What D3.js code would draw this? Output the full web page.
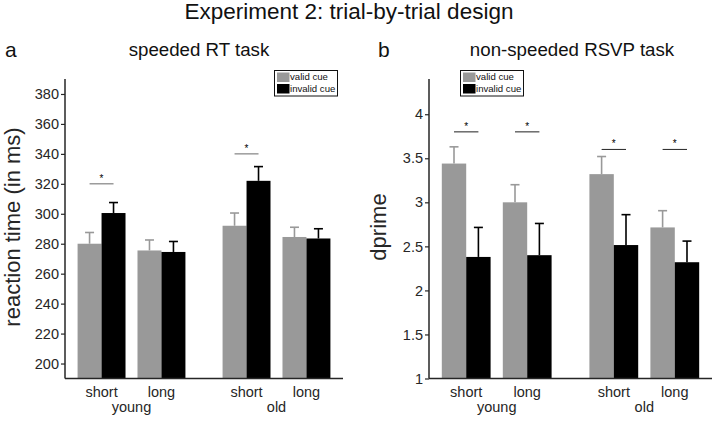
<!DOCTYPE html>
<html><head><meta charset="utf-8">
<script src="https://cdn.jsdelivr.net/npm/d3@7"></script>
<style>
html,body{margin:0;padding:0;background:#fff;}
svg{display:block;font-family:"Liberation Sans",Arial,sans-serif;}
</style></head>
<body><svg id="c" width="714" height="421"></svg>
<script>
// ---- data ----
const conditions = ["short", "long", "short", "long"];
const groups = ["young", "old"];
const positions = [1, 2, 3.42, 4.42];
const seriesNames = ["valid cue", "invalid cue"];

const rtValid = [280, 275.5, 292, 284.5];
const rtValidErr = [7.5, 7, 8.5, 6.5];
const rtInvalid = [300.5, 274.5, 322, 283.5];
const rtInvalidErr = [7, 7, 9.5, 6.5];
const rtSig = [320, null, 340, null];
const rtTicks = [200, 220, 240, 260, 280, 300, 320, 340, 360, 380];

const dpValid = [3.44, 3.0, 3.32, 2.715];
const dpValidErr = [0.19, 0.2, 0.2, 0.19];
const dpInvalid = [2.38, 2.40, 2.515, 2.32];
const dpInvalidErr = [0.335, 0.36, 0.345, 0.24];
const dpSig = [3.8, 3.8, 3.6, 3.6];
const dpTicks = [1, 1.5, 2, 2.5, 3, 3.5, 4];

const colValid = "#999999", colInvalid = "#000000", axisCol = "#262626";

const svg = d3.select("#c");

svg.append("text").attr("x", 349).attr("y", 18.5).attr("text-anchor", "middle")
  .attr("font-size", 22.5).attr("fill", "#111").text("Experiment 2: trial-by-trial design");

function panel(o) {
  const g = svg.append("g");
  const x = d3.scaleLinear().domain([0.39, 5.03]).range([o.x0, o.x1]);
  const y = d3.scaleLinear().domain(o.yDomain).range([378.5, 79]);
  const bw = 0.4;

  const series = [{v: o.valid, e: o.validErr, c: colValid, off: -bw},
                  {v: o.invalid, e: o.invalidErr, c: colInvalid, off: 0}];
  series.forEach(s => {
    const eg = g.append("g");
    s.v.forEach((v, i) => {
      const cx = x(positions[i] + s.off + bw / 2);
      eg.append("line").attr("x1", cx).attr("x2", cx).attr("y1", y(v)).attr("y2", y(v + s.e[i]))
        .attr("stroke", s.c).attr("stroke-width", 1.6);
      eg.append("line").attr("x1", cx - 4.5).attr("x2", cx + 4.5).attr("y1", y(v + s.e[i])).attr("y2", y(v + s.e[i]))
        .attr("stroke", s.c).attr("stroke-width", 1.6);
    });
    g.append("g").selectAll("rect").data(s.v).join("rect")
      .attr("x", (d, i) => x(positions[i] + s.off))
      .attr("width", x(bw) - x(0))
      .attr("y", d => y(d))
      .attr("height", d => y(o.yDomain[0]) - y(d))
      .attr("fill", s.c);
  });

  o.sig.forEach((v, i) => {
    if (v == null) return;
    const xa = x(positions[i] - bw / 2), xb = x(positions[i] + bw / 2);
    g.append("line").attr("x1", xa).attr("x2", xb).attr("y1", y(v)).attr("y2", y(v))
      .attr("stroke", o.sigCol).attr("stroke-width", 1.1);
    g.append("text").attr("x", (xa + xb) / 2).attr("y", y(v) - 2).attr("text-anchor", "middle")
      .attr("font-size", 10).attr("fill", "#000").text("*");
  });

  const ya = g.append("g").attr("transform", `translate(${o.x0},0)`)
    .call(d3.axisLeft(y).tickValues(o.ticks).tickSize(4).tickPadding(2).tickFormat(d3.format("~g")));
  ya.select(".domain").attr("d", `M0,${y(o.yDomain[0])}V${y(o.yDomain[1])}`)
    .attr("stroke", axisCol).attr("stroke-width", 1.5);
  ya.selectAll(".tick line").attr("stroke", axisCol).attr("stroke-width", 1.2);
  ya.selectAll(".tick text").attr("font-size", 14.5).attr("fill", "#262626")
    .attr("font-family", "Liberation Sans, Arial, sans-serif");

  g.append("line").attr("x1", o.x0).attr("x2", o.x1).attr("y1", 378.5).attr("y2", 378.5)
    .attr("stroke", axisCol).attr("stroke-width", 1.5);
  conditions.forEach((c, i) => {
    g.append("text").attr("x", x(positions[i])).attr("y", 396.5).attr("text-anchor", "middle")
      .attr("font-size", 14.5).attr("fill", "#262626").text(c);
  });
  groups.forEach((gr, j) => {
    const cx = (x(positions[2 * j]) + x(positions[2 * j + 1])) / 2;
    g.append("text").attr("x", cx).attr("y", 412).attr("text-anchor", "middle")
      .attr("font-size", 14.5).attr("fill", "#262626").text(gr);
  });

  g.append("text").attr("transform", `translate(${o.ylx},227) rotate(-90)`).attr("text-anchor", "middle")
    .attr("font-size", 22).attr("fill", "#262626").text(o.ylabel);

  g.append("text").attr("x", o.letterX).attr("y", 57).attr("font-size", 21).attr("fill", "#111").text(o.letter);
  g.append("text").attr("x", o.titleX).attr("y", 56).attr("text-anchor", "middle")
    .attr("font-size", 18.7).attr("fill", "#111").text(o.title);

  const lg = g.append("g").attr("transform", `translate(${o.legX},${o.legY})`);
  lg.append("rect").attr("x", 0).attr("y", 0).attr("width", 63).attr("height", 25.5)
    .attr("fill", "#fff").attr("stroke", "#111").attr("stroke-width", 1);
  [colValid, colInvalid].forEach((c, k) => {
    lg.append("rect").attr("x", 2.5).attr("y", 2 + k * 11.5).attr("width", 12.5).attr("height", 9.5).attr("fill", c);
    lg.append("text").attr("x", 15.5).attr("y", 9.8 + k * 11.8).attr("font-size", 9.6).attr("fill", "#111")
      .text(seriesNames[k]);
  });
}

panel({x0: 65, x1: 343, yDomain: [190, 390], ticks: rtTicks,
  valid: rtValid, validErr: rtValidErr, invalid: rtInvalid, invalidErr: rtInvalidErr,
  sig: rtSig, sigCol: "#777", ylabel: "reaction time (in ms)", ylx: 20,
  letter: "a", letterX: 5, title: "speeded RT task", titleX: 199, legX: 274.5, legY: 70.5});

panel({x0: 429, x1: 712, yDomain: [1, 4.4], ticks: dpTicks,
  valid: dpValid, validErr: dpValidErr, invalid: dpInvalid, invalidErr: dpInvalidErr,
  sig: dpSig, sigCol: "#333", ylabel: "dprime", ylx: 386,
  letter: "b", letterX: 378, title: "non-speeded RSVP task", titleX: 572, legX: 460.5, legY: 70.5});
</script></body></html>
